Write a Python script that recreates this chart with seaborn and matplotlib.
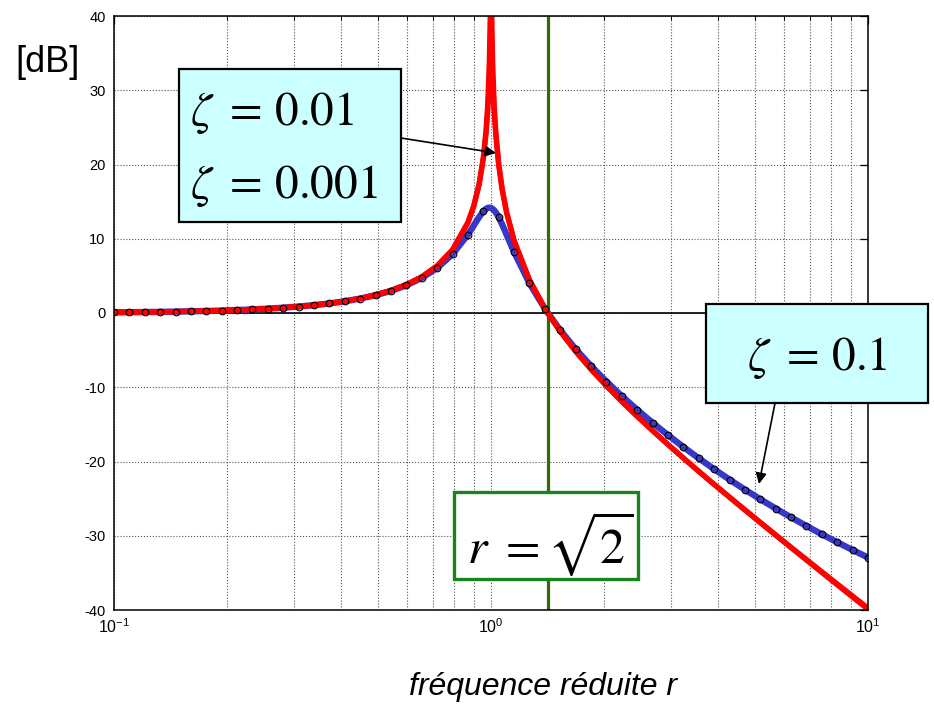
import numpy as np
import pandas as pd
import matplotlib
matplotlib.use("Agg")
import matplotlib.pyplot as plt
import seaborn as sns
from matplotlib.patches import Rectangle
from matplotlib.ticker import LogLocator, NullFormatter

# Reduced frequency samples (log spaced, 0.1 .. 10)
r_base = [0.1, 0.1098, 0.1207, 0.1326, 0.1456, 0.16, 0.1758, 0.1931, 0.2121, 0.233,
          0.256, 0.2812, 0.3089, 0.3393, 0.3728, 0.4095, 0.4498, 0.4942, 0.5429, 0.5964,
          0.6551, 0.7197, 0.7906, 0.8685, 0.9541, 1.0481, 1.1514, 1.2649, 1.3895, 1.5264,
          1.6768, 1.8421, 2.0236, 2.223, 2.4421, 2.6827, 2.9471, 3.2375, 3.5565, 3.9069,
          4.2919, 4.7149, 5.1795, 5.6899, 6.2506, 6.8665, 7.5431, 8.2864, 9.103, 10.0]

# Transmissibility in dB, zeta = 0.1
db_z01 = [0.09, 0.10, 0.13, 0.15, 0.19, 0.22, 0.27, 0.33, 0.40, 0.48,
          0.59, 0.71, 0.87, 1.06, 1.29, 1.58, 1.94, 2.40, 2.98, 3.73,
          4.72, 6.06, 7.92, 10.56, 13.68, 12.89, 8.21, 4.00, 0.58, -2.31,
          -4.85, -7.13, -9.23, -11.19, -13.03, -14.78, -16.44, -18.04, -19.56, -21.03,
          -22.43, -23.79, -25.08, -26.33, -27.53, -28.68, -29.80, -30.87, -31.92, -32.93]

# Transmissibility in dB, zeta = 0.01
db_z001 = [0.09, 0.11, 0.13, 0.15, 0.19, 0.23, 0.27, 0.33, 0.40, 0.49,
           0.59, 0.72, 0.87, 1.06, 1.30, 1.59, 1.96, 2.43, 3.03, 3.82,
           4.87, 6.34, 8.51, 12.17, 20.75, 19.94, 9.74, 4.44, 0.62, -2.48,
           -5.16, -7.58, -9.81, -11.91, -13.91, -15.84, -17.71, -19.53, -21.32, -23.07,
           -24.79, -26.50, -28.19, -29.87, -31.55, -33.20, -34.85, -36.49, -38.12, -39.74]

# Transmissibility in dB, zeta = 0.001
db_z0001 = [0.09, 0.11, 0.13, 0.15, 0.19, 0.23, 0.27, 0.33, 0.40, 0.49,
            0.59, 0.72, 0.87, 1.06, 1.30, 1.59, 1.96, 2.43, 3.03, 3.82,
            4.87, 6.34, 8.52, 12.19, 20.94, 20.13, 9.74, 4.44, 0.62, -2.48,
            -5.16, -7.58, -9.81, -11.91, -13.92, -15.84, -17.71, -19.54, -21.33, -23.09,
            -24.82, -26.54, -28.24, -29.93, -31.61, -33.28, -34.95, -36.61, -38.26, -39.91]

# Extra samples around the resonance r = 1
r_peak_z01 = [0.9, 0.93, 0.97, 0.98, 0.99, 1.0, 1.01, 1.02, 1.03, 1.07, 1.1]
db_peak_z01 = [11.78, 12.92, 14.02, 14.15, 14.19, 14.15, 14.02, 13.82, 13.54, 11.95, 10.54]

r_peak_z001 = [0.9, 0.93, 0.97, 0.98, 0.99, 1.0, 1.01, 1.02, 1.03, 1.07, 1.1]
db_peak_z001 = [14.39, 17.31, 24.13, 27.10, 31.04, 33.98, 30.91, 26.89, 23.84, 16.69, 13.51]

r_peak_z0001 = [0.9, 0.93, 0.97, 0.98, 0.99, 0.995, 0.999, 1.0, 1.001, 1.005, 1.01, 1.02, 1.03, 1.07, 1.1]
db_peak_z0001 = [14.42, 17.39, 24.56, 28.04, 33.98, 39.85, 50.98, 53.98, 50.96, 39.81, 33.89, 27.86, 24.30, 16.78, 13.56]

r_cross = np.sqrt(2)

y_ticks = [-40, -30, -20, -10, 0, 10, 20, 30, 40]
x_ticks = [0.1, 1, 10]
x_ticklabels = [r"$\mathregular{10^{-1}}$", r"$\mathregular{10^{0}}$", r"$\mathregular{10^{1}}$"]

sns.set_theme(style="white")
plt.rcParams["font.family"] = ["Liberation Sans", "DejaVu Sans"]
plt.rcParams["axes.unicode_minus"] = False
plt.rcParams["text.color"] = "black"
plt.rcParams["xtick.color"] = "black"
plt.rcParams["ytick.color"] = "black"
plt.rcParams["xtick.labelcolor"] = "black"
plt.rcParams["ytick.labelcolor"] = "black"

W, H = 934, 707
fig = plt.figure(figsize=(W / 100, H / 100), dpi=100)
ax = fig.add_axes([114 / W, 1 - 610 / H, 754 / W, 594 / H])
ax.set_xscale("log")

blue_df = pd.DataFrame({"r": r_base + r_peak_z01, "dB": db_z01 + db_peak_z01}).sort_values("r")
red1_df = pd.DataFrame({"r": r_base + r_peak_z001, "dB": db_z001 + db_peak_z001}).sort_values("r")
red2_df = pd.DataFrame({"r": r_base + r_peak_z0001, "dB": db_z0001 + db_peak_z0001}).sort_values("r")
mark_df = pd.DataFrame({"r": r_base, "dB": db_z01})

ax.axvline(r_cross, color="#336b00", lw=2.3, zorder=1.5)
ax.axhline(0, color="black", lw=1.2, zorder=1.6)

sns.lineplot(data=blue_df, x="r", y="dB", ax=ax, estimator=None, color="#3838c8",
             lw=4.6, zorder=2)
sns.lineplot(data=red1_df, x="r", y="dB", ax=ax, estimator=None, color="#ff0000",
             lw=3.8, zorder=2.1)
sns.lineplot(data=red2_df, x="r", y="dB", ax=ax, estimator=None, color="#ff0000",
             lw=3.8, zorder=2.2)
sns.lineplot(data=mark_df, x="r", y="dB", ax=ax, estimator=None, linestyle="none",
             marker="o", markersize=4.8, markerfacecolor="none", markeredgecolor="black",
             markeredgewidth=0.8, zorder=3)

ax.set_xlim(0.1, 10)
ax.set_ylim(-40, 40)
ax.set_xticks(x_ticks)
ax.set_xticklabels(x_ticklabels)
ax.xaxis.set_minor_locator(LogLocator(base=10, subs=np.arange(2, 10)))
ax.xaxis.set_minor_formatter(NullFormatter())
ax.set_yticks(y_ticks)
ax.set_yticklabels([str(v) for v in y_ticks])
ax.set_xlabel("")
ax.set_ylabel("")

ax.tick_params(which="major", direction="in", length=6, width=0.9, top=True, right=True,
               labelsize=10.5, colors="black")
ax.tick_params(which="minor", direction="in", length=3, width=0.7, top=True, right=True)
ax.tick_params(axis="y", pad=6)
ax.tick_params(axis="x", which="major", pad=5, labelsize=11.5)

ax.grid(True, which="both", axis="x", ls=":", color="#555555", lw=0.8, zorder=0.5)
ax.grid(True, which="major", axis="y", ls=":", color="#555555", lw=0.8, zorder=0.5)
ax.set_axisbelow(True)
for s in ax.spines.values():
    s.set_color("black")
    s.set_linewidth(1.1)

# Annotation boxes
box_kw = dict(transform=ax.transAxes, clip_on=False, zorder=4)
ax.add_patch(Rectangle((0.0862, 0.6532), 0.2944, 0.2576, fc="#ccffff", ec="black", lw=1.6, **box_kw))
ax.add_patch(Rectangle((0.7851, 0.3485), 0.2945, 0.1667, fc="#ccffff", ec="black", lw=1.6, **box_kw))
ax.add_patch(Rectangle((0.4509, 0.0522), 0.2441, 0.1465, fc="white", ec="#1a841a", lw=2.4, **box_kw))

txt_kw = dict(transform=ax.transAxes, fontsize=34, math_fontfamily="stix", ha="left",
              va="baseline", color="black", zorder=5)
ax.text(0.1008, 0.8165, r"$\zeta\ =\,0.01$", **txt_kw)
ax.text(0.1008, 0.6936, r"$\zeta\ =\,0.001$", **txt_kw)
ax.text(0.8395, 0.4040, r"$\zeta\ =\,0.1$", **txt_kw)
ax.text(0.4682, 0.0791, r"$r\ = \sqrt{2}$", **{**txt_kw, "fontsize": 36})

arrow_kw = dict(arrowstyle="-|>", color="black", lw=1.2, mutation_scale=16, shrinkA=0, shrinkB=0)
ax.annotate("", xy=(0.5066, 0.7694), xytext=(0.3806, 0.7946), xycoords="axes fraction",
            arrowprops=arrow_kw, zorder=5)
ax.annotate("", xy=(0.8554, 0.2121), xytext=(0.8767, 0.3485), xycoords="axes fraction",
            arrowprops=arrow_kw, zorder=5)

fig.text(15 / W, 1 - 62 / H, "[dB]", fontsize=26, ha="left", va="center", color="black")
fig.text(543 / W, 1 - 687 / H, "fréquence réduite r", fontsize=23, style="italic",
         ha="center", va="center", color="black")

fig.savefig("out.png", dpi=100)
